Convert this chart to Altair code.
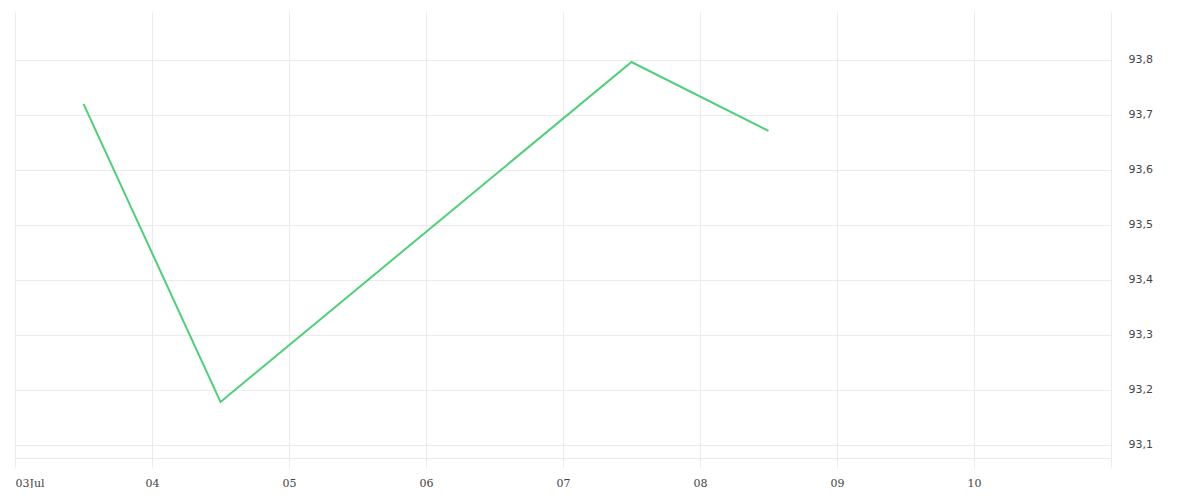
import altair as alt
import pandas as pd

dates = ["2021-07-03T12:00:00Z", "2021-07-04T12:00:00Z", "2021-07-07T12:00:00Z", "2021-07-08T12:00:00Z"]
values = [93.72, 93.178, 93.796, 93.671]
tick_days = [3, 4, 5, 6, 7, 8, 9, 10, 11]
y_ticks = [93.1, 93.2, 93.3, 93.4, 93.5, 93.6, 93.7, 93.8]

df = pd.DataFrame({"t": dates, "v": values})

grid = "#ebebeb"
tick_vals = [alt.DateTime(year=2021, month=7, date=d, utc=True) for d in tick_days]

chart = alt.Chart(df).mark_line(color="#4dd078", strokeWidth=2).encode(
    x=alt.X("t:T", title=None,
            scale=alt.Scale(type="utc",
                            domain=[alt.DateTime(year=2021, month=7, date=3, utc=True),
                                    alt.DateTime(year=2021, month=7, date=11, utc=True)]),
            axis=alt.Axis(values=tick_vals, grid=True, gridColor=grid, domain=True,
                          domainColor=grid, tickColor=grid, tickSize=9, labelPadding=10,
                          labelFont="DejaVu Serif", labelFontSize=11, labelColor="#444444",
                          labelFlush=True,
                          labelExpr="utcdate(datum.value) == 3 ? '03Jul' : (utcdate(datum.value) == 11 ? '' : utcFormat(datum.value, '%d'))")),
    y=alt.Y("v:Q", title=None,
            scale=alt.Scale(domain=[93.076, 93.887], zero=False, nice=False),
            axis=alt.Axis(orient="right", values=y_ticks, grid=True, gridColor=grid,
                          domain=False, ticks=False, labelPadding=17,
                          labelFont="DejaVu Sans", labelFontSize=11, labelColor="#444444",
                          labelExpr="replace(format(datum.value, '.1f'), '.', ',')")),
).properties(
    width=1096, height=446,
    padding={"left": 7, "top": 4, "right": 60, "bottom": 30},
    autosize=alt.AutoSizeParams(type="none"),
).configure_view(stroke=None)

chart.save("out.html", embed_options={"renderer": "svg", "actions": False})
